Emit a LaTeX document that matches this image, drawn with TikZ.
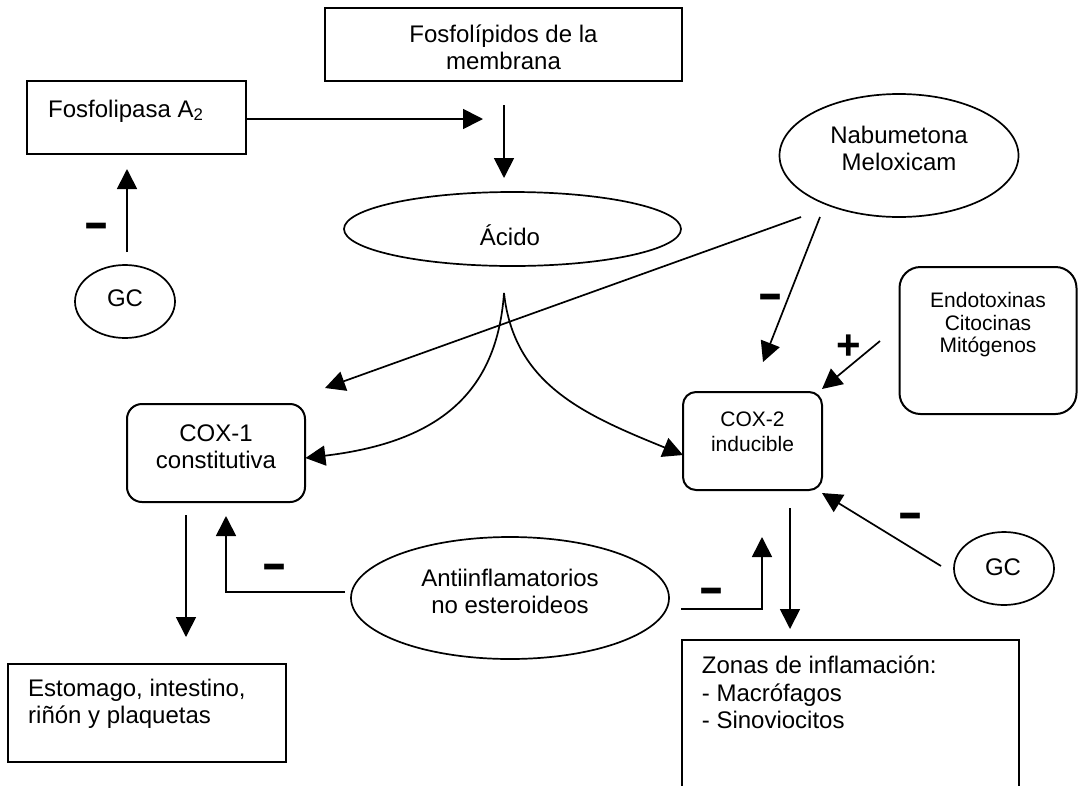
\documentclass[tikz,border=0pt]{standalone}
\usepackage{fontspec}
\setmainfont{Liberation Sans}
\usetikzlibrary{arrows.meta,shapes.geometric}
\begin{document}
\begin{tikzpicture}[x=1pt,y=-1pt,
  rbox/.style={draw, line width=2pt, inner sep=0pt, rectangle},
  ell/.style={draw, line width=1.7pt, ellipse, inner sep=0pt},
  txt/.style={inner sep=0pt, anchor=base, font=\fontsize{24}{27.5}\selectfont},
  txtl/.style={txt, anchor=base west},
  stxt/.style={inner sep=0pt, anchor=base, font=\fontsize{21}{23}\selectfont},
  minus/.style={inner sep=0pt, anchor=base, font=\fontsize{36}{36}\selectfont\bfseries},
  plus/.style={inner sep=0pt, font=\fontsize{42}{42}\selectfont\bfseries},
  arr/.style={line width=1.7pt, -{Triangle[length=20pt,width=20pt]}},
]
\useasboundingbox (0,0) rectangle (1078,785);
\clip (0,0) rectangle (1078,785);
\fill[white] (0,0) rectangle (1078,785);

% shapes
\node[rbox, minimum width=219pt, minimum height=73pt] (fpa) at (136.5,117.5) {};
\node[rbox, minimum width=357pt, minimum height=73pt] (fpl) at (503.5,44.5) {};
\node[ell, minimum width=337pt, minimum height=74pt] (acido) at (512.5,229) {};
\node[ell, minimum width=100pt, minimum height=73pt] (gc1) at (125,301.5) {};
\node[ell, minimum width=239pt, minimum height=123pt] (nab) at (899,155.5) {};
\node[rbox, rounded corners=15pt, minimum width=178pt, minimum height=98pt] (cox1) at (216,453) {};
\node[rbox, rounded corners=13pt, minimum width=139pt, minimum height=98pt] (cox2) at (752.5,441) {};
\node[rbox, rounded corners=21pt, minimum width=177pt, minimum height=147pt] (endo) at (988,340.5) {};
\node[ell, minimum width=318pt, minimum height=122pt] (aines) at (510,598) {};
\node[ell, minimum width=100pt, minimum height=73pt] (gc2) at (1004,568.5) {};
\node[rbox, minimum width=278pt, minimum height=98pt] (esto) at (147,713) {};
\node[rbox, minimum width=337pt, minimum height=170pt] (zonas) at (850.5,725) {};

% texts
\node[txtl] (tfpa) at (48,117) {Fosfolipasa A\textsubscript{2}};
\node[txt] (tfpl1) at (503.5,42) {Fosfolípidos de la};
\node[txt] (tfpl2) at (503.5,69) {membrana};
\node[txt] (tac) at (510,245) {Ácido};
\node[txt] (tgc1) at (125,306.7) {GC};
\node[txt] (tnab1) at (899,143) {Nabumetona};
\node[txt] (tnab2) at (899,170) {Meloxicam};
\node[txt] (tcox1a) at (216,441.7) {COX-1};
\node[txt] (tcox1b) at (216,468.3) {constitutiva};
\node[stxt] (tcox2a) at (752.5,426.7) {COX-2};
\node[stxt] (tcox2b) at (752.5,451.7) {inducible};
\node[stxt] (tendo1) at (988,307) {Endotoxinas};
\node[stxt] (tendo2) at (988,330) {Citocinas};
\node[stxt] (tendo3) at (988,352.5) {Mitógenos};
\node[txt] (taines1) at (510,586.7) {Antiinflamatorios};
\node[txt] (taines2) at (510,613.3) {no esteroideos};
\node[txt] (tgc2) at (1003,575) {GC};
\node[txtl] (testo1) at (28,696.7) {Estomago, intestino,};
\node[txtl] (testo2) at (28,723.3) {riñón y plaquetas};
\node[txtl] (tzon1) at (701.7,673) {Zonas de inflamación:};
\node[txtl] (tzon2) at (701.7,701) {- Macrófagos};
\node[txtl] (tzon3) at (701.7,728) {- Sinoviocitos};

% connector end points
\coordinate (pa1) at (483,119);
\coordinate (pd0) at (504,105);
\coordinate (pd1) at (504,178);
\coordinate (g1a) at (127,252);
\coordinate (g1b) at (127,169);
\coordinate (ac0) at (504,293);
\coordinate (c1in) at (305.4,458);
\coordinate (c2in) at (683,455);
\coordinate (n1) at (801,217);
\coordinate (n1t) at (325,388);
\coordinate (n2) at (820,217);
\coordinate (n2t) at (763,362);
\coordinate (e0) at (880,341);
\coordinate (et) at (822,389);
\coordinate (g2a) at (941,566);
\coordinate (g2t) at (822,493);
\coordinate (c1d0) at (186,515);
\coordinate (c1d1) at (186,637);
\coordinate (a1s) at (345,592);
\coordinate (a1c) at (226,592);
\coordinate (a1t) at (226,516);
\coordinate (a2s) at (681,609);
\coordinate (a2c) at (762,609);
\coordinate (a2t) at (762,537);
\coordinate (c2d0) at (790,508);
\coordinate (c2d1) at (790,629);

% connectors
\draw[arr] (fpa.east |- pa1) -- (pa1);
\draw[arr] (pd0) -- (pd1);
\draw[arr] (g1a) -- (g1b);
\draw[arr] (ac0) .. controls (497,392) and (440,442) .. (c1in);
\draw[arr] (ac0) .. controls (514,385) and (585,415) .. (c2in);
\draw[arr] (n1) -- (n1t);
\draw[arr] (n2) -- (n2t);
\draw[arr] (e0) -- (et);
\draw[arr] (g2a) -- (g2t);
\draw[arr] (c1d0) -- (c1d1);
\draw[arr] (a1s) -- (a1c) -- (a1t);
\draw[arr] (a2s) -- (a2c) -- (a2t);
\draw[arr] (c2d0) -- (c2d1);

% signs
\node[minus] (m1) at (97,241.7) {\scalebox{1.1}[1.6]{–}};
\node[minus] (m2) at (275,582.2) {\scalebox{1.1}[1.6]{–}};
\node[minus] (m3) at (770.5,312.7) {\scalebox{1.1}[1.6]{–}};
\node[minus] (m4) at (910,531.7) {\scalebox{1.1}[1.6]{–}};
\node[minus] (m5) at (712,606.7) {\scalebox{1.1}[1.6]{–}};
\node[plus] (p1) at (849,347.5) {+};
\end{tikzpicture}
\end{document}
